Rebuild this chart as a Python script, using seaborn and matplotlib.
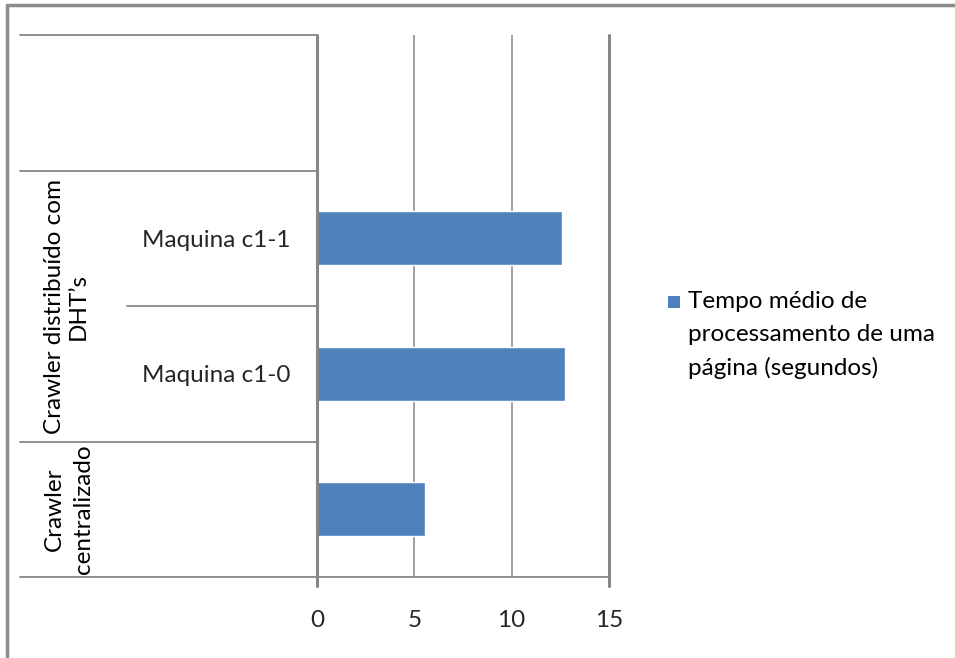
import matplotlib
matplotlib.use("Agg")
import matplotlib.pyplot as plt
from matplotlib.lines import Line2D
from matplotlib.patches import Rectangle
import pandas as pd
import seaborn as sns

# Average time to process one page, per crawler setup
grupos = ["Crawler distribuído com\nDHT’s", "Crawler distribuído com\nDHT’s", "Crawler\ncentralizado"]
maquinas = ["Maquina c1-1", "Maquina c1-0", ""]
tempo = [12.6, 12.75, 5.55]
x_ticks = [0, 5, 10, 15]
serie = "Tempo médio de\nprocessamento de uma\npágina (segundos)"

AZUL = "#4F81BD"
CINZA = "#868686"
FONT = 17.5

sns.set_theme(style="white")
plt.rcParams["font.family"] = ["Lato", "DejaVu Sans"]
plt.rcParams["text.color"] = "black"

df = pd.DataFrame({
    "linha": [f"{g}|{m}" for g, m in zip(grupos, maquinas)],
    "tempo": tempo,
})

W, H = 955, 658
fig = plt.figure(figsize=(W / 100, H / 100), dpi=100)
fig.patch.set_facecolor("white")
L, R, T, B = 317, 609, 35, 577
ax = fig.add_axes([L / W, 1 - B / H, (R - L) / W, (B - T) / H])

sns.barplot(data=df, x="tempo", y="linha", orient="h", color=AZUL,
            saturation=1, width=0.4, ax=ax)

for s in ax.spines.values():
    s.set_visible(False)
ax.grid(axis="x", color=CINZA, lw=1.1)
ax.grid(axis="y", visible=False)
ax.set_axisbelow(True)

# value axis line, category axis and the right edge (with short tick marks below)
tick_len = 9 / (B - T)
xtr = ax.get_xaxis_transform()
for xv in (x_ticks[0], x_ticks[-1]):
    ax.add_line(Line2D([xv, xv], [-tick_len, 1], transform=xtr,
                       color=CINZA, lw=2.2, clip_on=False, zorder=3))

# category separators running into the label column
ytr = ax.get_yaxis_transform()
full = -(L - 20) / (R - L)
inner = -(L - 127) / (R - L)
for yv in (-1.5, -0.5, 1.5):
    ax.add_line(Line2D([full, 0], [yv, yv], transform=ytr,
                       color=CINZA, lw=1.3, clip_on=False))
ax.add_line(Line2D([inner, 0], [0.5, 0.5], transform=ytr,
                   color=CINZA, lw=1.3, clip_on=False))
ax.add_line(Line2D([full, 1], [2.5, 2.5], transform=ytr,
                   color=CINZA, lw=1.3, clip_on=False))

ax.set_xlim(x_ticks[0], x_ticks[-1])
ax.set_ylim(2.5, -1.5)
ax.set_xticks(x_ticks)
ax.set_xticklabels([str(v) for v in x_ticks], fontsize=FONT)
ax.set_yticks(range(len(maquinas)))
ax.set_yticklabels(maquinas, fontsize=FONT)
ax.tick_params(axis="x", length=0, pad=24)
ax.tick_params(axis="y", length=0, pad=19)
ax.set_xlabel("")
ax.set_ylabel("")

# outer group labels, rotated
gx = -(L - 66) / (R - L)
ax.text(gx, 0.5, grupos[0], transform=ytr, rotation=90, ha="center",
        va="center", multialignment="center", fontsize=FONT, linespacing=1.15)
ax.text(gx + 0.01, 2, grupos[2], transform=ytr, rotation=90, ha="center",
        va="center", multialignment="center", fontsize=FONT, linespacing=1.45)

# legend
cor = ax.patches[0].get_facecolor()
fig.add_artist(Rectangle((668 / W, 1 - 308 / H), 12 / W, 12 / H,
                         transform=fig.transFigure, facecolor=cor, edgecolor="none"))
fig.text(688 / W, 1 - 291 / H, serie, ha="left", va="top", fontsize=FONT,
         linespacing=1.68)

# chart frame
fig.add_artist(Line2D([7 / W, 7 / W], [0, 1 - 5 / H], transform=fig.transFigure,
                      color="#8c8c8c", lw=2.5))
fig.add_artist(Line2D([7 / W, 1], [1 - 5 / H, 1 - 5 / H], transform=fig.transFigure,
                      color="#8c8c8c", lw=2.5))

fig.savefig("out.png", dpi=100)
